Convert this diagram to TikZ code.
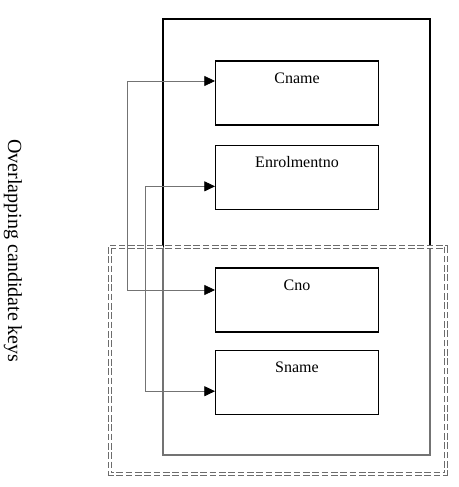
\documentclass[tikz,border=0pt]{standalone}
\usepackage{fontspec}
\setmainfont{Liberation Serif}
\usetikzlibrary{positioning,arrows.meta}

\tikzstyle{attr} = [draw, line width=1pt, minimum width=122pt, inner sep=0pt,
	text height=16.5pt, text depth=31.5pt, font=\fontsize{12}{14}\selectfont]
\tikzstyle{link} = [draw=gray!90!black, line width=0.6pt,
	{Triangle[length=8pt,width=7.5pt,color=black]}-{Triangle[length=8pt,width=7.5pt,color=black]}]

\begin{document}
\begin{tikzpicture}[x=0.75pt,y=-0.75pt]
\useasboundingbox (0,0) rectangle (459,487);
% relation
\draw[line width=1pt] (163,19) rectangle (430,455);
% candidate keys overlap
\draw[gray!85!black, double, double distance=1.3pt, line width=0.75pt, dash pattern=on 5pt off 2pt,
	fill=white, fill opacity=0.45] (110,247) rectangle (446,474);
\node[rotate=-90, font=\fontsize{15}{17}\selectfont] (side) at (13,251) {Overlapping candidate keys};

\node [attr] (cname) at (297,93) {Cname};
\node [attr, below=14.25pt of cname] (enrol) {Enrolmentno};
\node [attr, below=43pt of enrol] (cno) {Cno};
\node [attr, below=13pt of cno] (sname) {Sname};

\coordinate (l1) at (127,0);
\coordinate (l2) at (145,0);
\coordinate (p1) at ([yshift=9pt]cname.west);
\coordinate (p2) at ([yshift=-6.75pt]enrol.west);
\coordinate (p3) at ([yshift=7.5pt]cno.west);
\coordinate (p4) at ([yshift=-6.4pt]sname.west);
\draw[link] (p1) -- (p1 -| l1) -- (p3 -| l1) -- (p3);
\draw[link] (p2) -- (p2 -| l2) -- (p4 -| l2) -- (p4);
\end{tikzpicture}
\end{document}
